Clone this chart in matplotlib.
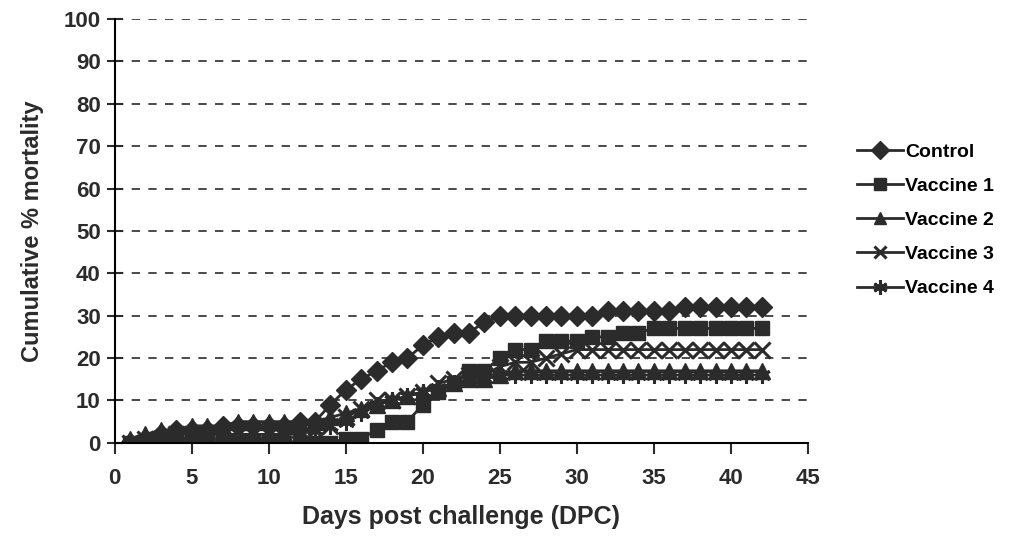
import numpy as np
import matplotlib
matplotlib.use('Agg')
import matplotlib.pyplot as plt

plt.rcParams['font.family'] = ['Liberation Sans', 'DejaVu Sans']
plt.rcParams['font.weight'] = 'bold'

days = list(range(1, 43))

control = [0, 1, 2, 3, 3, 3, 4, 4, 4, 4, 4, 5, 5, 9, 12.5, 15, 17, 19, 20, 23, 25, 26, 26, 28.5,
           30, 30, 30, 30, 30, 30, 30, 31, 31, 31, 31, 31, 32, 32, 32, 32, 32, 32]
vaccine1 = [0, 0, 0, 0, 0, 0, 0, 0, 0, 0, 0, 0, 0, 0, 1, 1, 3, 5, 5, 9, 12, 14, 17, 17,
            20, 22, 22, 24, 24, 24, 25, 25, 26, 26, 27, 27, 27, 27, 27, 27, 27, 27]
vaccine2 = [1, 2, 3, 3, 4, 4, 4, 5, 5, 5, 5, 5, 5, 6, 7, 8, 9, 10, 11, 12, 13, 14, 15, 15,
            16, 17, 17, 17, 17, 17, 17, 17, 17, 17, 17, 17, 17, 17, 17, 17, 17, 17]
vaccine3 = [0, 1, 1, 2, 2, 2, 2, 2, 2, 2, 2, 3, 3, 4, 6, 8, 10, 10, 11, 12, 14, 15, 16, 16,
            18, 19, 19, 20, 21, 22, 22, 22, 22, 22, 22, 22, 22, 22, 22, 22, 22, 22]
vaccine4 = [0, 1, 1, 1, 1, 1, 1, 1, 1, 1, 2, 2, 3, 4, 5, 7, 9, 10, 11, 12, 13, 14, 15, 15,
            16, 16, 16, 16, 16, 16, 16, 16, 16, 16, 16, 16, 16, 16, 16, 16, 16, 16]

series = [('Control', control, 'D', 10.5),
          ('Vaccine 1', vaccine1, 's', 10.5),
          ('Vaccine 2', vaccine2, '^', 11),
          ('Vaccine 3', vaccine3, 'x', 11),
          ('Vaccine 4', vaccine4, (6, 2, 0), 12)]

ink = '#2b2b2b'

fig = plt.figure(figsize=(10.24, 5.44), dpi=100)
ax = fig.add_axes([0.112, 0.186, 0.677, 0.779])

for name, vals, mk, ms in series:
    ax.plot(days, vals, color=ink, marker=mk, markersize=ms, linewidth=2,
            markeredgewidth=2.2 if mk in ('x', (6, 2, 0)) else 1, label=name)

ax.set_xlim(0, 45)
ax.set_ylim(0, 100)
ax.set_xticks(np.arange(0, 46, 5))
ax.set_yticks(np.arange(0, 101, 10))
for y in range(10, 101, 10):
    ax.axhline(y, color=ink, linestyle=(0, (5, 5)), linewidth=1.2, zorder=0)

ax.spines['top'].set_visible(False)
ax.spines['right'].set_visible(False)
ax.spines['left'].set_linewidth(1.5)
ax.spines['bottom'].set_linewidth(1.5)
ax.tick_params(axis='y', direction='inout', length=12, width=1.5, labelsize=16, colors=ink, pad=4)
ax.tick_params(axis='x', direction='out', length=8, width=1.5, labelsize=16, colors=ink, pad=10)

ax.set_xlabel('Days post challenge (DPC)', fontsize=18, fontweight='bold', color=ink, labelpad=12)
ax.set_ylabel('Cumulative % mortality', fontsize=17, fontweight='bold', color=ink, labelpad=14)

ax.legend(loc='center left', bbox_to_anchor=(1.045, 0.525), frameon=False, fontsize=14,
          handlelength=2.4, handletextpad=0.1, labelspacing=0.85, markerscale=0.85)

fig.savefig('out.png', dpi=100, facecolor='white')
